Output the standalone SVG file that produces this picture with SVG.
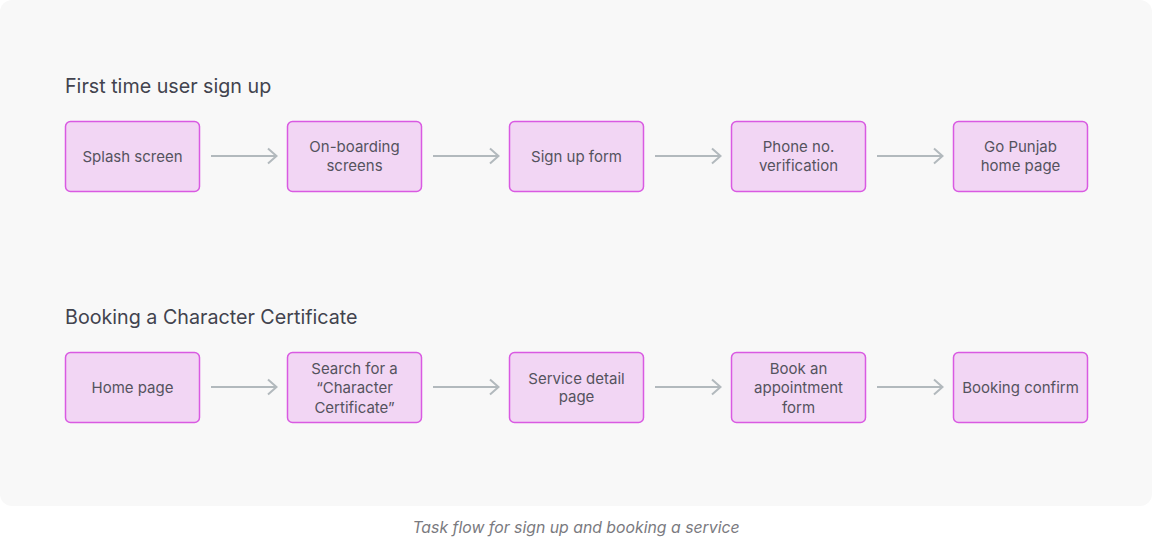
<svg xmlns="http://www.w3.org/2000/svg" width="1152" height="544" viewBox="0 0 1152 544">
<defs>
<style>
.box{fill:#f2d6f4;stroke:#d95ae2;stroke-width:1.5}
.lbl{font-family:Inter,"Liberation Sans",sans-serif;font-size:15px;fill:#55535e;text-anchor:middle}
.ttl{font-family:Inter,"Liberation Sans",sans-serif;font-size:19.7px;fill:#42434e}
.cap{font-family:Inter,"Liberation Sans",sans-serif;font-size:15.8px;font-style:italic;fill:#7a7a80;text-anchor:middle}
.arr{stroke:#b2b9bd;stroke-width:2;fill:none}
</style>
<marker id="ah" viewBox="0 0 12 18" refX="11" refY="9" markerWidth="12" markerHeight="18" markerUnits="userSpaceOnUse" orient="auto">
<path d="M2 1.5 L10.5 9 L2 16.5" fill="none" stroke="#b2b9bd" stroke-width="2"/>
</marker>
</defs>
<rect x="0" y="0" width="1152" height="506" rx="12" fill="#f8f8f8"/>
<text class="ttl" x="65" y="93">First time user sign up</text>
<text class="ttl" x="65" y="324">Booking a Character Certificate</text>
<g id="connectors">
<line class="arr" x1="211" y1="156" x2="277" y2="156" marker-end="url(#ah)"/>
<line class="arr" x1="433" y1="156" x2="499" y2="156" marker-end="url(#ah)"/>
<line class="arr" x1="655" y1="156" x2="721" y2="156" marker-end="url(#ah)"/>
<line class="arr" x1="877" y1="156" x2="943" y2="156" marker-end="url(#ah)"/>
<line class="arr" x1="211" y1="387" x2="277" y2="387" marker-end="url(#ah)"/>
<line class="arr" x1="433" y1="387" x2="499" y2="387" marker-end="url(#ah)"/>
<line class="arr" x1="655" y1="387" x2="721" y2="387" marker-end="url(#ah)"/>
<line class="arr" x1="877" y1="387" x2="943" y2="387" marker-end="url(#ah)"/>
</g>
<g id="n1"><rect class="box" x="65.5" y="121.5" width="134" height="70" rx="5"/><text class="lbl" x="132.5" y="161.5">Splash screen</text></g>
<g id="n2"><rect class="box" x="287.5" y="121.5" width="134" height="70" rx="5"/><text class="lbl" x="354.5" y="152">On-boarding</text><text class="lbl" x="354.5" y="171">screens</text></g>
<g id="n3"><rect class="box" x="509.5" y="121.5" width="134" height="70" rx="5"/><text class="lbl" x="576.5" y="161.5">Sign up form</text></g>
<g id="n4"><rect class="box" x="731.5" y="121.5" width="134" height="70" rx="5"/><text class="lbl" x="798.5" y="152">Phone no.</text><text class="lbl" x="798.5" y="171">verification</text></g>
<g id="n5"><rect class="box" x="953.5" y="121.5" width="134" height="70" rx="5"/><text class="lbl" x="1020.5" y="152">Go Punjab</text><text class="lbl" x="1020.5" y="171">home page</text></g>
<g id="m1"><rect class="box" x="65.5" y="352.5" width="134" height="70" rx="5"/><text class="lbl" x="132.5" y="392.5">Home page</text></g>
<g id="m2"><rect class="box" x="287.5" y="352.5" width="134" height="70" rx="5"/><text class="lbl" x="354.5" y="373.5">Search for a</text><text class="lbl" x="354.5" y="393">“Character</text><text class="lbl" x="354.5" y="412.5">Certificate”</text></g>
<g id="m3"><rect class="box" x="509.5" y="352.5" width="134" height="70" rx="5"/><text class="lbl" x="576.5" y="383.5">Service detail</text><text class="lbl" x="576.5" y="402">page</text></g>
<g id="m4"><rect class="box" x="731.5" y="352.5" width="134" height="70" rx="5"/><text class="lbl" x="798.5" y="373.5">Book an</text><text class="lbl" x="798.5" y="393">appointment</text><text class="lbl" x="798.5" y="412.5">form</text></g>
<g id="m5"><rect class="box" x="953.5" y="352.5" width="134" height="70" rx="5"/><text class="lbl" x="1020.5" y="392.5">Booking confirm</text></g>
<text class="cap" x="576" y="533">Task flow for sign up and booking a service</text>
</svg>
